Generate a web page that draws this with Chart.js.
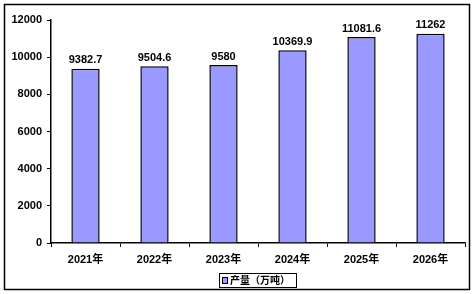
<!DOCTYPE html>
<html>
  <head>
    <title>产量</title>
    <script src="https://cdn.jsdelivr.net/npm/chart.js@4/dist/chart.umd.min.js"></script>
    <style>
      html, body { margin: 0; padding: 0; background: #fff; }
      #wrap { width: 473px; height: 294px; }
    </style>
  </head>
  <body>
    <div id="wrap"><canvas id="canvas" width="473" height="294"></canvas></div>
    <script>
      const years = ['2021年', '2022年', '2023年', '2024年', '2025年', '2026年'];
      const output = [9382.7, 9504.6, 9580, 10369.9, 11081.6, 11262];
      const seriesName = '产量（万吨）';

      const FONT = '"Liberation Sans", "Noto Sans CJK SC", sans-serif';
      const barFill = '#9999ff';

      // outer frame, value labels and the boxed legend
      const decor = {
        id: 'decor',
        afterDatasetsDraw(chart) {
          const ctx = chart.ctx;
          ctx.save();
          ctx.strokeStyle = '#000';
          ctx.lineWidth = 1.5;
          ctx.strokeRect(4.5, 4.5, 465, 285);

          ctx.fillStyle = '#000';
          ctx.font = 'bold 11px ' + FONT;
          ctx.textAlign = 'center';
          ctx.textBaseline = 'bottom';
          const meta = chart.getDatasetMeta(0);
          meta.data.forEach((bar, i) => {
            ctx.fillText(String(output[i]), bar.x, bar.y - 3);
          });

          // legend
          ctx.lineWidth = 1;
          ctx.strokeRect(219.5, 273.5, 77, 14);
          ctx.fillStyle = barFill;
          ctx.fillRect(222.5, 277.5, 5, 6);
          ctx.strokeRect(222.5, 277.5, 5, 6);
          ctx.fillStyle = '#000';
          ctx.textAlign = 'left';
          ctx.textBaseline = 'middle';
          ctx.font = 'bold 10px ' + FONT;
          ctx.fillText(seriesName, 230, 281);
          ctx.restore();
        },
      };

      new Chart(document.getElementById('canvas'), {
        type: 'bar',
        data: {
          labels: years,
          datasets: [
            {
              label: seriesName,
              data: output,
              backgroundColor: barFill,
              borderColor: '#000',
              borderWidth: 1.5,
              categoryPercentage: 1,
              barPercentage: 0.41,
            },
          ],
        },
        options: {
          responsive: false,
          animation: false,
          layout: { padding: { left: 0, right: 8, top: 20, bottom: 0 } },
          plugins: { legend: { display: false }, tooltip: { enabled: false } },
          scales: {
            x: {
              afterFit: (s) => { s.height = 51; },
              grid: { display: true, drawOnChartArea: false, tickLength: 4, color: '#000', offset: true },
              border: { color: '#000', width: 1.5 },
              ticks: { color: '#000', padding: 6, font: { family: FONT, size: 11, weight: 'bold' } },
            },
            y: {
              min: 0,
              max: 12000,
              afterFit: (s) => { s.width = 51; },
              grid: { display: true, drawOnChartArea: false, tickLength: 4, color: '#000' },
              border: { color: '#000', width: 1.5 },
              ticks: {
                stepSize: 2000,
                color: '#000',
                padding: 5,
                font: { family: FONT, size: 11, weight: 'bold' },
                callback: (v) => String(v),
              },
            },
          },
        },
        plugins: [decor],
      });
    </script>
  </body>
</html>
